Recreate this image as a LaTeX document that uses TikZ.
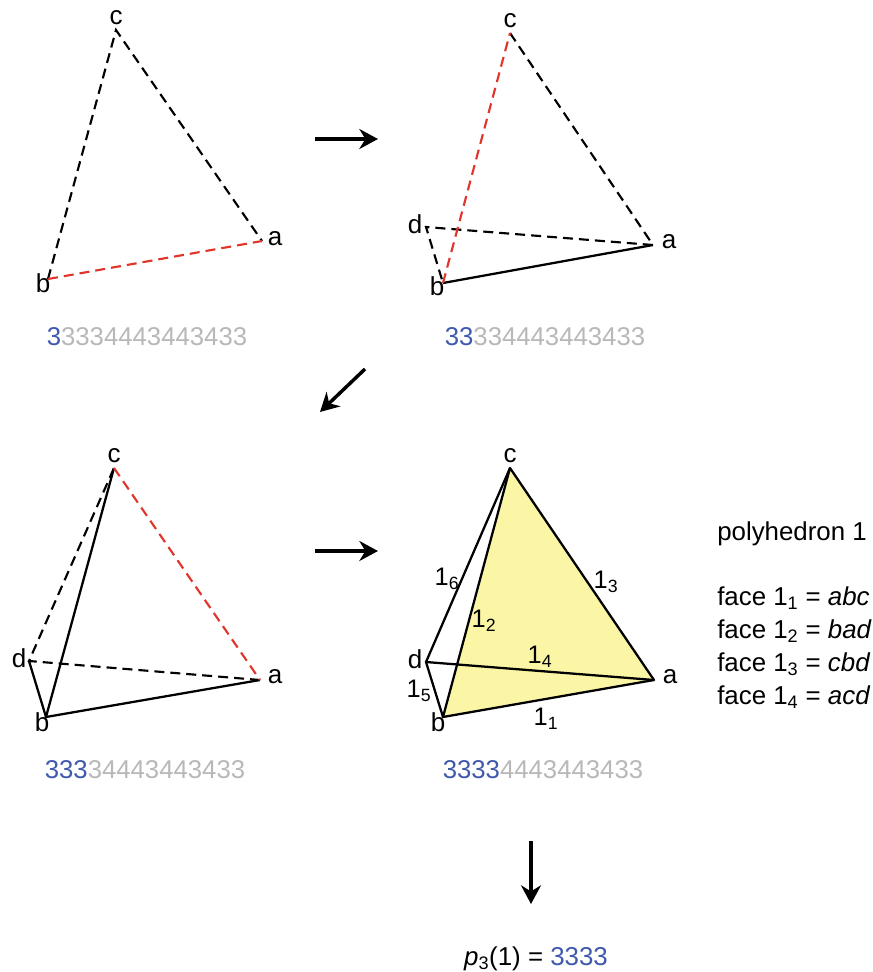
\documentclass[tikz,border=0pt]{standalone}
\usepackage{fontspec}
\setmainfont{Liberation Sans}
\usepackage{xcolor}
\usetikzlibrary{arrows.meta, positioning}
\definecolor{seqblue}{HTML}{4059AD}
\definecolor{seqgrey}{HTML}{B8B8B8}
\definecolor{edgered}{HTML}{E0352B}
\definecolor{faceyellow}{HTML}{FBF6A6}
\tikzset{
  edge/.style={line width=1.7pt, line join=round},
  hidden/.style={line width=1.6pt, dash pattern=on 7.5pt off 4.5pt},
  hiddenred/.style={hidden, draw=edgered},
  flow/.style={line width=2.6pt, -{Stealth[length=14pt, width=15pt]}},
  vlabel/.style={inner sep=0pt, font=\fontsize{19.5}{22}\selectfont},
  seqtext/.style={inner sep=0pt, anchor=base, font=\fontsize{19.3}{22}\selectfont, text=seqgrey},
  sublabel/.style={inner sep=0pt, font=\fontsize{19}{22}\selectfont},
  sidetext/.style={inner sep=0pt, anchor=base west, font=\fontsize{19.4}{22}\selectfont},
}
\begin{document}
\begin{tikzpicture}[x=0.75pt, y=-0.75pt]
  \useasboundingbox (0,0) rectangle (872,972);

  % first tetrahedron step
  \coordinate (c1) at (116,30);
  \coordinate (a1) at (262,241);
  \coordinate (b1) at (48,279);
  \draw[hidden] (b1) -- (c1) -- (a1);
  \draw[hiddenred] (b1) -- (a1);
  \node[vlabel] (lc1) at (116,18) {c};
  \node[vlabel] (la1) at (275,239) {a};
  \node[vlabel] (lb1) at (43,283) {b};
  \node[seqtext] (seq1) at (147,345) {\textcolor{seqblue}{3}3334443443433};

  % second step
  \coordinate (c2) at (510,33);
  \coordinate (a2) at (653,245);
  \coordinate (b2) at (443,283);
  \coordinate (d2) at (426,227);
  \draw[edge] (b2) -- (a2);
  \draw[hidden] (c2) -- (a2) -- (d2) -- (b2);
  \draw[hiddenred] (b2) -- (c2);
  \node[vlabel] (lc2) at (510,21) {c};
  \node[vlabel] (la2) at (669,242) {a};
  \node[vlabel] (lb2) at (437,286) {b};
  \node[vlabel] (ld2) at (415,224) {d};
  \node[seqtext] (seq2) at (545,345) {\textcolor{seqblue}{33}334443443433};

  % third step
  \coordinate (c3) at (114,468);
  \coordinate (a3) at (260,680);
  \coordinate (b3) at (46,717);
  \coordinate (d3) at (29,661);
  \draw[edge] (a3) -- (b3) -- (c3);
  \draw[edge] (d3) -- (b3);
  \draw[hidden] (a3) -- (d3) -- (c3);
  \draw[hiddenred] (c3) -- (a3);
  \node[vlabel] (lc3) at (114,456) {c};
  \node[vlabel] (la3) at (275,677) {a};
  \node[vlabel] (lb3) at (42,722) {b};
  \node[vlabel] (ld3) at (19,658) {d};
  \node[seqtext] (seq3) at (145,778) {\textcolor{seqblue}{333}34443443433};

  % closed polyhedron
  \coordinate (c4) at (510,468);
  \coordinate (a4) at (654,680);
  \coordinate (b4) at (443,717);
  \coordinate (d4) at (426,662);
  \fill[faceyellow] (a4) -- (b4) -- (c4) -- cycle;
  \draw[edge] (a4) -- (b4) -- (c4) -- cycle;
  \draw[edge] (c4) -- (d4) -- (b4);
  \draw[edge] (d4) -- (a4);
  \node[vlabel] (lc4) at (510,456) {c};
  \node[vlabel] (la4) at (670,677) {a};
  \node[vlabel] (lb4) at (438,722) {b};
  \node[vlabel] (ld4) at (415,659) {d};
  \node[sublabel] (e1) at (546,719) {1\textsubscript{1}};
  \node[sublabel] (e2) at (484,621) {1\textsubscript{2}};
  \node[sublabel] (e3) at (606,582) {1\textsubscript{3}};
  \node[sublabel] (e4) at (540,657) {1\textsubscript{4}};
  \node[sublabel] (e5) at (419,691) {1\textsubscript{5}};
  \node[sublabel] (e6) at (447,579) {1\textsubscript{6}};
  \node[seqtext] (seq4) at (543,778) {\textcolor{seqblue}{3333}4443443433};

  % side text
  \node[sidetext] (poly) at (717,540) {polyhedron 1};
  \node[sidetext] (f1) at (717,605) {face 1\textsubscript{1} = \textit{abc}};
  \node[sidetext] (f2) at (717,638) {face 1\textsubscript{2} = \textit{bad}};
  \node[sidetext] (f3) at (717,671) {face 1\textsubscript{3} = \textit{cbd}};
  \node[sidetext] (f4) at (717,704) {face 1\textsubscript{4} = \textit{acd}};
  \node[sidetext, anchor=base] (result) at (536,965) {\textit{p}\textsubscript{3}(1) = \textcolor{seqblue}{3333}};

  % arrows between the steps
  \coordinate (s1) at (315,139);
  \coordinate (t1) at (378,139);
  \coordinate (s2) at (365,369);
  \coordinate (t2) at (320,412);
  \coordinate (s3) at (315,551);
  \coordinate (t3) at (378,551);
  \coordinate (s4) at (531,841);
  \coordinate (t4) at (531,904);
  \draw[flow] (s1) -- (t1);
  \draw[flow] (s2) -- (t2);
  \draw[flow] (s3) -- (t3);
  \draw[flow] (s4) -- (t4);
\end{tikzpicture}
\end{document}
